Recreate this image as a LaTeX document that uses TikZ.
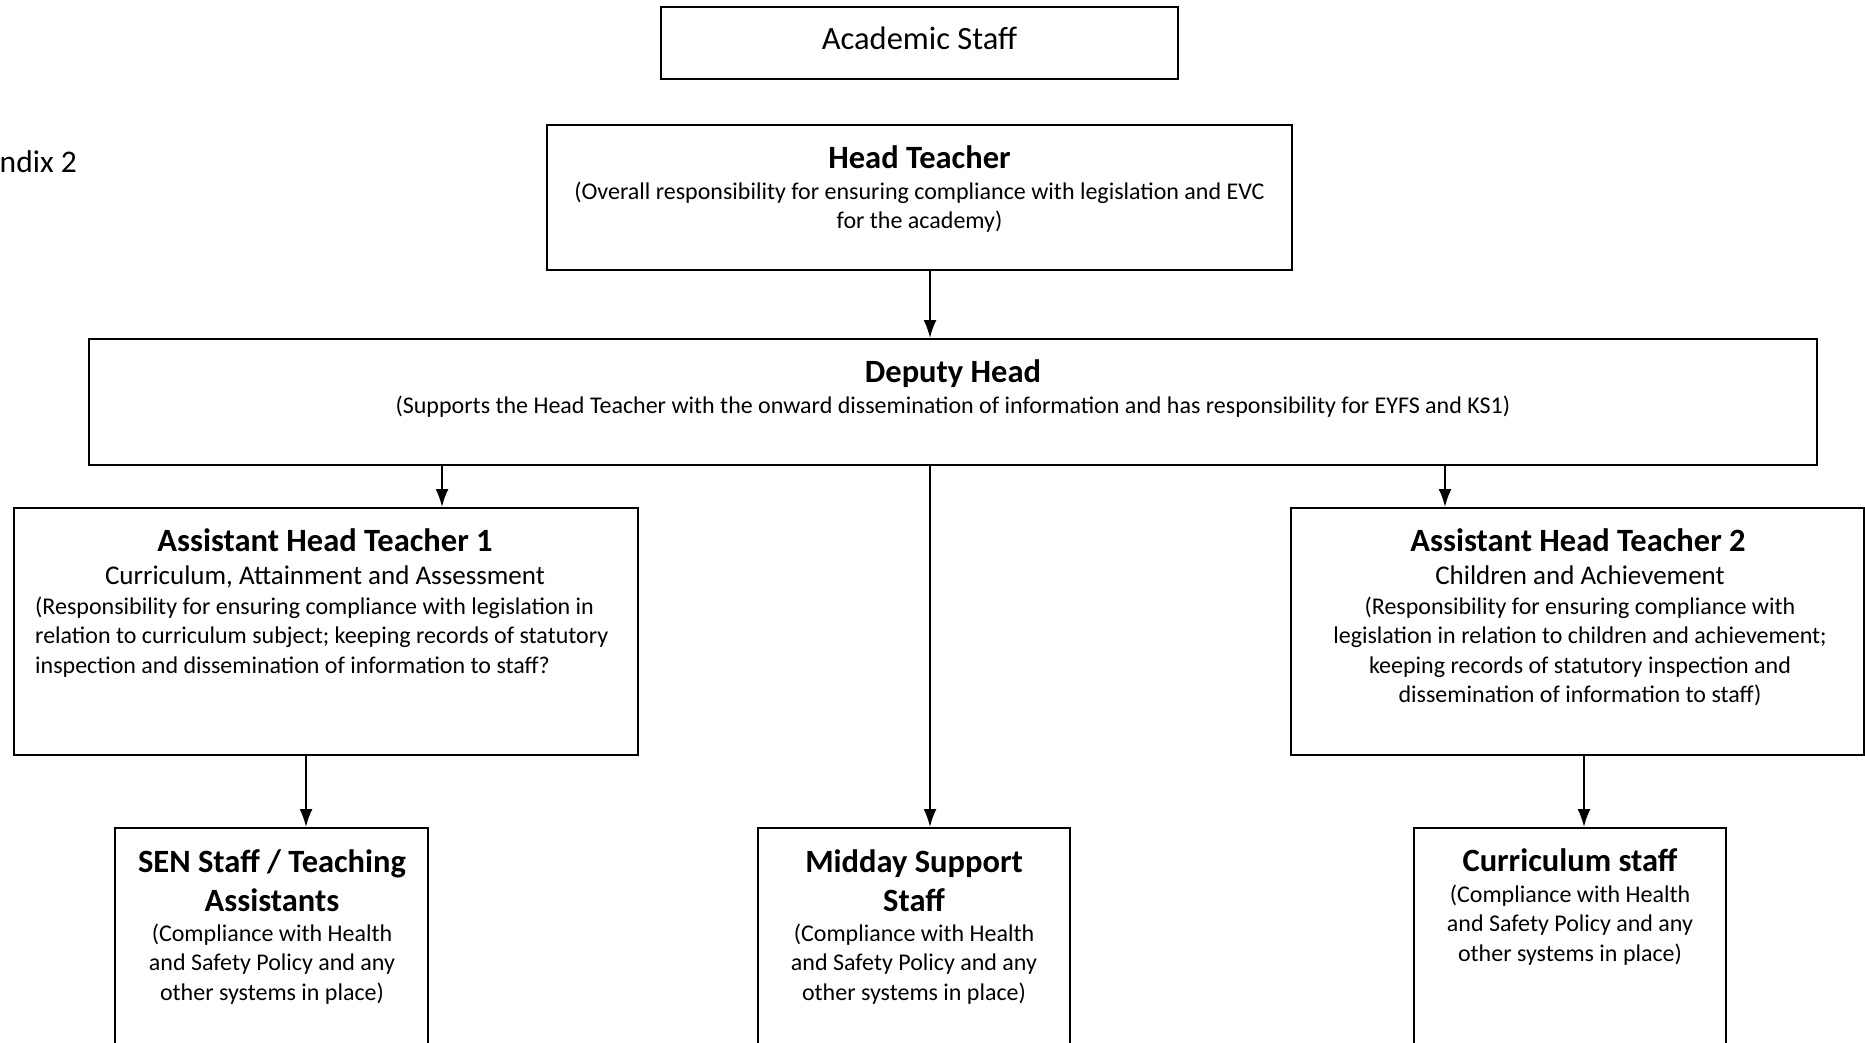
\documentclass[tikz,border=0pt]{standalone}
\usepackage{fontspec}
\setmainfont{Carlito}
\usetikzlibrary{arrows.meta}

\begin{document}
\begin{tikzpicture}[x=1pt, y=-1pt,
  box/.style={draw, line width=2pt, inner sep=0pt},
  ttl/.style={inner sep=0pt, anchor=north, align=center, font=\fontsize{32.5}{39.5}\selectfont\bfseries},
  txt/.style={inner sep=0pt, anchor=north, align=center, font=\fontsize{24}{29.5}\selectfont},
  arr/.style={line width=2pt, -{Latex[length=18pt, width=13pt]}}]
\useasboundingbox (0,0) rectangle (1865,1042);
\clip (0,0) rectangle (1865,1042);

\node[box, minimum width=517pt, minimum height=72pt, text depth=9pt, font=\fontsize{32.5}{38}\selectfont] (acad) at (919.5,43) {Academic Staff};
\node[inner sep=0pt, anchor=east, font=\fontsize{31.5}{36}\selectfont] (appx) at (77,162) {ndix 2};

\node[box, minimum width=745pt, minimum height=145pt] (head) at (919.5,197.5) {};
\node[ttl] (headttl) at (919.5,145) {Head Teacher};
\node[txt] (headtxt) at (919.5,181.5) {(Overall responsibility for ensuring compliance with legislation and EVC\\for the academy)};

\node[box, minimum width=1728pt, minimum height=126pt] (dep) at (953,402) {};
\node[ttl] (depttl) at (953,359) {Deputy Head};
\node[txt] (deptxt) at (953,396) {(Supports the Head Teacher with the onward dissemination of information and has responsibility for EYFS and KS1)};

\node[box, minimum width=624pt, minimum height=247pt] (aht1) at (326,631.5) {};
\node[ttl] (aht1ttl) at (325,528) {Assistant Head Teacher 1};
\node[txt, font=\fontsize{27}{30}\selectfont] (aht1sub) at (325,566) {Curriculum, Attainment and Assessment};
\node[txt, anchor=north west, align=left] (aht1txt) at (35,596.5) {(Responsibility for ensuring compliance with legislation in\\relation to curriculum subject; keeping records of statutory\\inspection and dissemination of information to staff?};

\node[box, minimum width=573pt, minimum height=247pt] (aht2) at (1577.5,631.5) {};
\node[ttl] (aht2ttl) at (1578,528) {Assistant Head Teacher 2};
\node[txt] (aht2txt) at (1580,566) {{\fontsize{27}{30}\selectfont Children and Achievement}\\(Responsibility for ensuring compliance with\\legislation in relation to children and achievement;\\keeping records of statutory inspection and\\dissemination of information to staff)};

\node[box, minimum width=313pt, minimum height=252pt] (sen) at (271.5,954) {};
\node[ttl] (senttl) at (272,849) {SEN Staff / Teaching\\Assistants};
\node[txt] (sentxt) at (272,923.5) {(Compliance with Health\\and Safety Policy and any\\other systems in place)};

\node[box, minimum width=312pt, minimum height=252pt] (mid) at (914,954) {};
\node[ttl] (midttl) at (914,849) {Midday Support\\Staff};
\node[txt] (midtxt) at (914,923.5) {(Compliance with Health\\and Safety Policy and any\\other systems in place)};

\node[box, minimum width=312pt, minimum height=252pt] (cur) at (1570,954) {};
\node[ttl] (curttl) at (1570,848) {Curriculum staff};
\node[txt] (curtxt) at (1570,884.5) {(Compliance with Health\\and Safety Policy and any\\other systems in place)};

\coordinate (spine) at (930,0);
\coordinate (lftdrop) at (442,0);
\coordinate (rgtdrop) at (1445,0);
\coordinate (sendrop) at (306,0);
\coordinate (curdrop) at (1584,0);

\draw[arr] (head.south -| spine) -- (dep.north -| spine);
\draw[arr] (dep.south -| spine) -- (mid.north -| spine);
\draw[arr] (dep.south -| lftdrop) -- (aht1.north -| lftdrop);
\draw[arr] (dep.south -| rgtdrop) -- (aht2.north -| rgtdrop);
\draw[arr] (aht1.south -| sendrop) -- (sen.north -| sendrop);
\draw[arr] (aht2.south -| curdrop) -- (cur.north -| curdrop);
\end{tikzpicture}
\end{document}
